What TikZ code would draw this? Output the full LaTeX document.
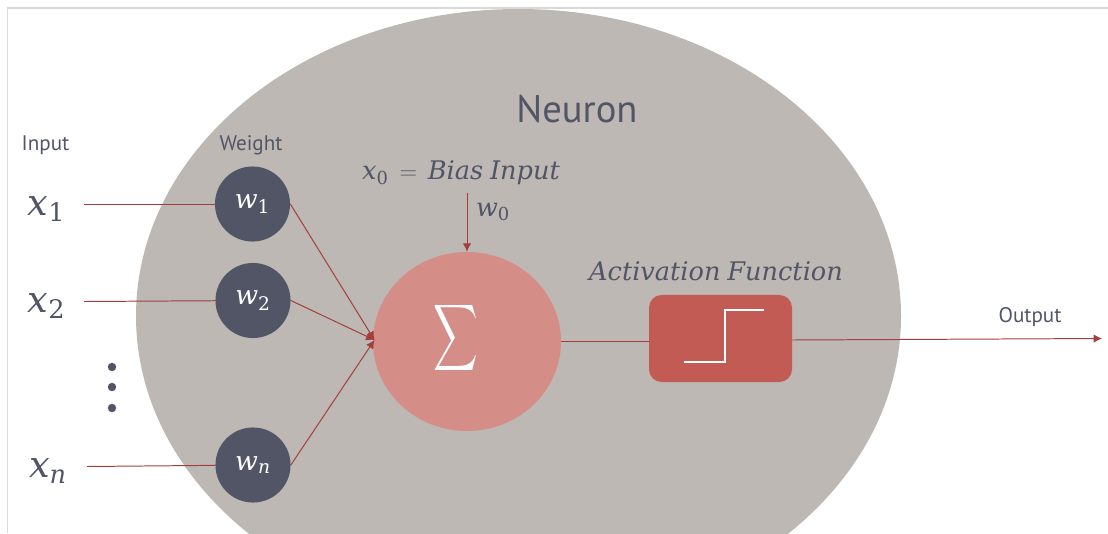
\documentclass[tikz,border=0pt]{standalone}
\usepackage{fontspec}
\setmainfont{PT Sans}
\setmathrm{DejaVu Serif}
\usetikzlibrary{arrows.meta}
\usetikzlibrary{shapes.geometric}

\definecolor{bodygrey}{HTML}{BDB8B3}
\definecolor{slate}{HTML}{515566}
\definecolor{sumpink}{HTML}{D58D88}
\definecolor{boxred}{HTML}{C35B55}
\definecolor{wirered}{HTML}{A33E3C}
\definecolor{framegrey}{HTML}{D9D9D9}

\tikzset{
  weightnode/.style={circle, fill=slate, text=white, minimum size=53.4pt, inner sep=0pt, font=\fontsize{19}{19}\selectfont},
  wire/.style={draw=wirered, line width=0.7pt},
  arrowwire/.style={wire, -{Latex[length=6pt,width=6pt]}},
  caption/.style={text=slate, inner sep=0pt, font=\fontsize{15}{15}\selectfont},
  mathlabel/.style={text=slate, inner sep=0pt, font=\fontsize{26}{26}\selectfont},
  italiclabel/.style={text=slate, inner sep=0pt, font=\fontsize{18.2}{18.2}\selectfont},
  dotnode/.style={circle, fill=slate, minimum size=6pt, inner sep=0pt}
}

\begin{document}
\begin{tikzpicture}[x=0.025cm, y=-0.025cm]

\useasboundingbox (0,0) rectangle (1108,533);

%% Page frame %%
\draw[framegrey, line width=0.8pt] (7.5,533) -- (7.5,8) -- (1108,8);

%% Neuron body %%
\begin{scope}
\clip (0,0) rectangle (1108,533);
\fill[bodygrey] (518.5,316) ellipse [x radius=382.5, y radius=307];
\end{scope}

%% Nodes %%
% weights %
\node[weightnode] (w1) at (252.5,204) {$\mathit{w}_{\mathrm{1}}$};
\node[weightnode] (w2) at (253,300.5) {$\mathit{w}_{\mathrm{2}}$};
\node[weightnode] (wn) at (253,465) {$\mathit{w}_{\mathit{n}}$};

% sum %
\node[ellipse, fill=sumpink, minimum width=133.7pt, minimum height=127.3pt, inner sep=0pt] (sum) at (467,341.5) {};
\node[text=white, inner sep=0pt] (sumsign) at (456,337.5) {\scalebox{2.2}[3.3]{$\displaystyle\sum$}};

% activation %
\node[rectangle, rounded corners=9pt, fill=boxred, minimum width=101.7pt, minimum height=61.9pt, inner sep=0pt] (act) at (720.5,338.5) {};
\draw[white, line width=1.8pt] (684,362) -- (725,362) -- (725,310) -- (764,310);

%% Labels %%
\node[text=slate, inner sep=0pt, font=\fontsize{27.4}{27.4}\selectfont] (neuron) at (577,109) {Neuron};
\node[caption] (input) at (45.5,145.5) {Input};
\node[caption] (weight) at (251,145.5) {Weight};
\node[caption] (output) at (1030,317.5) {Output};

\node[mathlabel] (x1) at (46.5,209) {$\mathit{x}_{\mathrm{1}}$};
\node[mathlabel] (x2) at (46.5,306) {$\mathit{x}_{\mathrm{2}}$};
\node[mathlabel] (xn) at (48,471) {$\mathit{x}_{\mathit{n}}$};

\node[italiclabel] (bias) at (461,172.5) {$\mathit{x}_{\mathrm{0}}\,=\,\mathit{Bias\ Input}$};
\node[italiclabel] (w0) at (493,212) {$\mathit{w}_{\mathrm{0}}$};
\node[italiclabel] (activation) at (716,271) {$\mathit{Activation\ Function}$};

% dots %
\node[dotnode] (dota) at (112,367) {};
\node[dotnode] (dotb) at (112,387) {};
\node[dotnode] (dotc) at (112,408) {};

%% Connection arrows %%
% free ends %
\coordinate (x1end) at (84,204);
\coordinate (x2end) at (84,301.5);
\coordinate (xnend) at (87,466.5);
\coordinate (biasend) at (467,193);
\coordinate (outend) at (1102,338.5);
\coordinate (sumin) at (374.5,340);

% left to right %
\draw[wire] (x1end) -- (w1);
\draw[wire] (x2end) -- (w2);
\draw[wire] (xnend) -- (wn);

\draw[arrowwire] (w1.east) -- (sumin);
\draw[arrowwire] (w2.east) -- (sumin);
\draw[arrowwire] (wn.east) -- (sumin);

\draw[arrowwire] (biasend) -- (sum.north);

\draw[wire] (sum.east) -- (act.west |- sum.east);
\draw[arrowwire] (act.east) ++(0,1.5) -- (outend);

\end{tikzpicture}
\end{document}
